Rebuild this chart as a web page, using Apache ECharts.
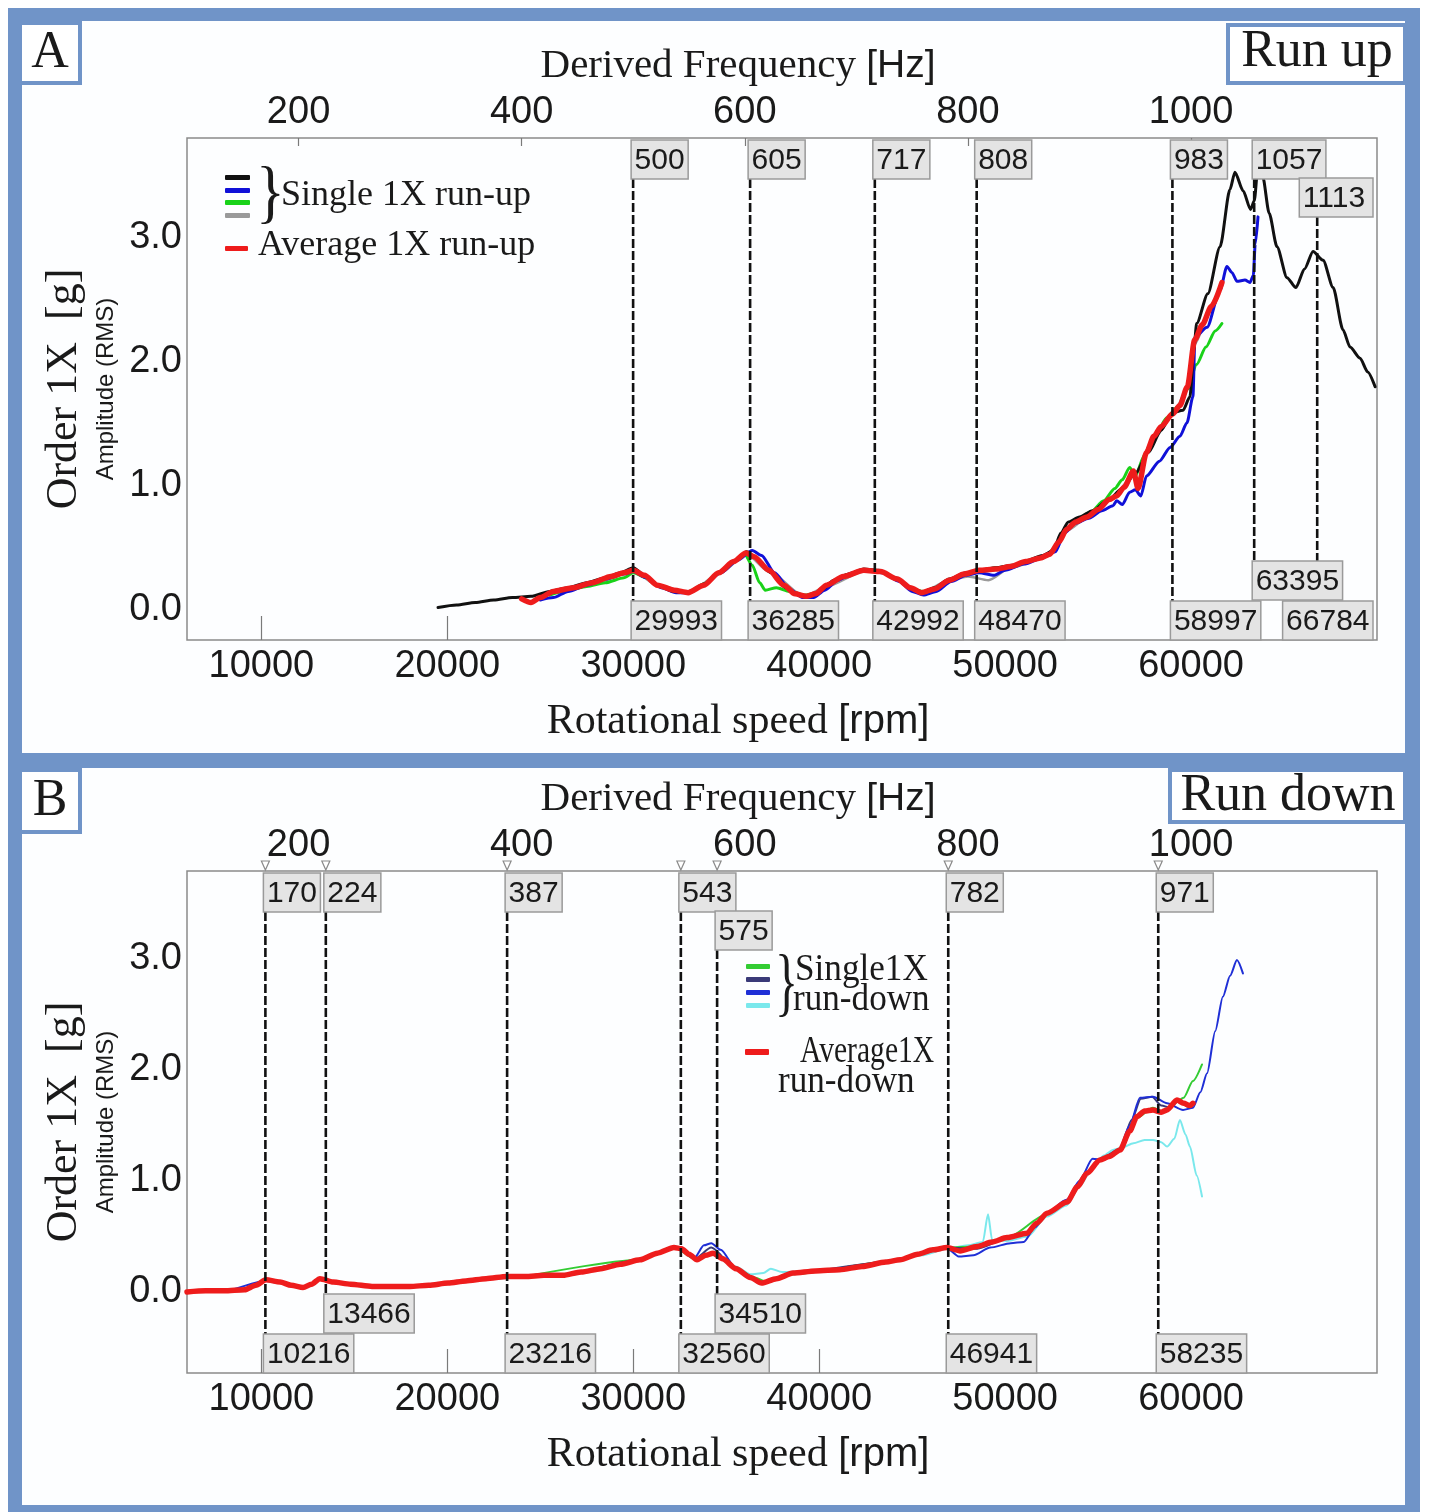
<!DOCTYPE html>
<html>
<head>
<meta charset="utf-8">
<title>Order 1X amplitude – run up / run down</title>
<script src="https://cdn.jsdelivr.net/npm/echarts@6/dist/echarts.min.js"></script>
<style>
  html, body { margin: 0; padding: 0; background: #ffffff; }
  #chart { width: 1429px; height: 1512px; }
</style>
</head>
<body>
<div id="chart"></div>
<script>
// ---------- axis ticks ----------
const rpmTicks = [10000, 20000, 30000, 40000, 50000, 60000];
const hzTicks = [200, 400, 600, 800, 1000];
const ampTicks = [0, 1, 2, 3];

// ---------- critical-speed markers [rpm] ----------
const runUpMarkersRpm = [29993, 36285, 42992, 48470, 58997, 63395, 66784];
const runDownMarkersRpm = [10216, 13466, 23216, 32560, 34510, 46941, 58235];

// ---------- run up: order 1X amplitude [g] vs speed [rpm] ----------
const runUpBlack = [
  [19500,0.02],[20500,0.04],[21500,0.06],[22500,0.08],[23500,0.10],[24500,0.11],[25500,0.15],
  [26500,0.18],[27500,0.22],[28500,0.26],[29300,0.30],[30000,0.34],[30700,0.27],[31400,0.19],
  [32200,0.15],[33000,0.14],[33800,0.21],[34700,0.31],[35500,0.40],[36100,0.47],[36600,0.42],
  [37400,0.30],[38200,0.18],[38900,0.12],[39500,0.11],[40100,0.16],[40800,0.24],[41600,0.29],
  [42400,0.33],[43200,0.32],[44100,0.26],[44900,0.18],[45500,0.14],[46200,0.18],[47000,0.25],
  [47900,0.30],[48600,0.32],[49500,0.34],[50400,0.36],[51200,0.40],[52000,0.44],[52600,0.48],
  [53000,0.62],[53400,0.71],[54000,0.75],[54700,0.80],[55500,0.88],[56300,0.98],[57000,1.10],
  [57700,1.27],[58400,1.45],[58970,1.59],[59570,1.61],[59940,1.72],[60150,2.10],[60300,2.31],
  [60900,2.55],[61560,2.93],[62090,3.39],[62360,3.53],[62800,3.38],[63200,3.23],[63400,3.30],
  [63600,3.58],[63850,3.50],[64200,3.20],[64620,2.93],[65160,2.68],[65640,2.60],[66100,2.75],
  [66560,2.89],[67100,2.82],[67640,2.60],[68170,2.26],[68550,2.12],[69090,2.03],[69500,1.92],
  [69900,1.80]
];
const runUpBlue = [
  [25000,0.08],[25700,0.10],[26500,0.15],[27500,0.20],[28500,0.25],[29500,0.29],[30000,0.31],
  [30700,0.26],[31500,0.18],[32300,0.14],[33000,0.14],[33800,0.20],[34700,0.30],[35600,0.40],
  [36400,0.48],[36900,0.44],[37600,0.30],[38400,0.17],[39100,0.10],[39700,0.10],[40300,0.16],
  [41000,0.24],[41800,0.30],[42600,0.32],[43400,0.30],[44300,0.23],[45000,0.15],[45600,0.12],
  [46300,0.15],[47100,0.23],[47900,0.28],[48600,0.30],[49400,0.28],[50000,0.32],[51000,0.37],
  [52000,0.42],[52700,0.47],[53200,0.62],[53800,0.70],[54500,0.74],[55200,0.80],[55800,0.84],
  [56000,0.88],[56300,0.85],[56700,0.95],[57000,0.97],[57300,0.92],[57600,1.08],[58300,1.20],
  [58870,1.31],[59400,1.40],[59780,1.51],[60100,1.72],[60210,2.20],[60860,2.28],[61560,2.58],
  [61930,2.77],[62200,2.72],[62470,2.65],[62900,2.66],[63170,2.64],[63350,2.70],[63450,2.95],
  [63600,3.17]
];
const runUpGreen = [
  [25500,0.12],[26500,0.16],[27500,0.19],[28500,0.22],[29500,0.26],[30000,0.30],[30700,0.26],
  [31400,0.19],[32200,0.15],[33000,0.15],[33800,0.21],[34700,0.31],[35500,0.40],[36000,0.45],
  [36400,0.36],[36800,0.22],[37100,0.16],[37700,0.18],[38400,0.15],[39200,0.12],[39900,0.14],
  [40500,0.21],[41400,0.28],[42400,0.32],[43300,0.31],[44200,0.25],[45000,0.17],[45600,0.15],
  [46300,0.18],[47100,0.25],[48000,0.30],[48700,0.32],[49600,0.34],[50500,0.36],[51400,0.40],
  [52200,0.44],[52800,0.52],[53300,0.66],[53900,0.73],[54600,0.79],[55300,0.88],[55900,0.98],
  [56300,1.05],[56700,1.15],[57000,1.08],[57500,1.25],[58100,1.42],[58700,1.55],[59300,1.64],
  [59800,1.78],[60300,1.98],[60800,2.12],[61300,2.25],[61660,2.31]
];
const runUpGrey = [
  [26000,0.14],[28000,0.22],[30000,0.31],[31300,0.20],[33000,0.14],[34600,0.29],[36100,0.45],
  [37300,0.31],[39200,0.11],[40400,0.19],[42400,0.31],[43300,0.31],[45500,0.14],[47000,0.24],
  [48000,0.27],[49100,0.24],[50300,0.34],[52400,0.44],[53300,0.64],[54400,0.74],[55600,0.88],
  [56900,1.08],[58000,1.38],[59000,1.57],[59800,1.78],[60200,2.15],[61000,2.40],[61500,2.55]
];
const runUpAverage = [
  [24000,0.09],[24500,0.06],[25000,0.10],[25700,0.15],[26800,0.18],[27800,0.22],[28800,0.27],
  [29500,0.30],[30000,0.32],[30600,0.28],[31300,0.20],[32200,0.16],[32950,0.14],[33800,0.20],
  [34600,0.30],[35400,0.39],[36060,0.46],[36500,0.43],[37300,0.32],[38100,0.20],[38700,0.13],
  [39300,0.11],[39800,0.13],[40400,0.20],[41300,0.27],[42400,0.32],[43300,0.31],[44200,0.25],
  [44900,0.18],[45500,0.14],[46200,0.17],[47000,0.24],[47800,0.29],[48600,0.32],[49500,0.33],
  [50300,0.35],[51100,0.39],[51900,0.42],[52400,0.45],[52900,0.55],[53300,0.65],[53800,0.71],
  [54400,0.75],[55000,0.81],[55600,0.89],[56000,0.92],[56400,0.99],[56900,1.12],[57150,0.98],
  [57600,1.27],[58000,1.40],[58400,1.48],[59000,1.58],[59400,1.65],[59800,1.80],[60200,2.18],
  [60600,2.30],[61100,2.45],[61660,2.64]
];

// ---------- run down: order 1X amplitude [g] vs speed [rpm] ----------
const runDownAverage = [
  [6000,0.00],[7000,0.01],[8000,0.01],[9100,0.02],[9700,0.06],[10250,0.11],[11000,0.09],
  [11600,0.06],[12240,0.04],[12700,0.07],[13150,0.12],[13860,0.09],[14800,0.07],[15950,0.05],
  [17000,0.05],[17990,0.05],[19000,0.06],[20040,0.08],[21000,0.10],[22080,0.12],[23200,0.14],
  [24180,0.14],[25200,0.15],[26220,0.15],[27200,0.18],[28260,0.21],[29300,0.25],[30360,0.29],
  [31300,0.35],[32190,0.40],[32600,0.39],[33000,0.34],[33430,0.29],[33900,0.33],[34290,0.35],
  [34800,0.30],[35530,0.21],[36300,0.13],[36900,0.08],[37700,0.12],[38590,0.17],[39800,0.19],
  [41110,0.20],[42300,0.23],[43590,0.27],[44350,0.29],[45300,0.34],[46120,0.38],[46870,0.40],
  [47580,0.37],[48490,0.41],[49300,0.45],[50100,0.49],[51180,0.53],[51700,0.62],[52250,0.71],
  [53330,0.81],[53900,0.95],[54400,1.07],[55100,1.19],[55600,1.22],[56180,1.28],[56700,1.45],
  [57090,1.58],[57500,1.63],[57950,1.64],[58400,1.62],[58710,1.64],[59240,1.73],[59600,1.70],
  [59940,1.68],[60100,1.70]
];
const runDownBlue = [
  [6000,0.00],[8000,0.01],[10200,0.10],[11000,0.08],[12200,0.04],[13200,0.11],[14000,0.08],
  [16000,0.05],[18000,0.05],[20000,0.08],[22000,0.12],[24200,0.14],[26200,0.15],[28300,0.21],
  [30400,0.29],[32200,0.40],[32700,0.37],[33300,0.31],[33800,0.42],[34200,0.44],[34700,0.38],
  [35500,0.22],[36300,0.13],[36900,0.09],[37800,0.12],[38600,0.17],[41100,0.20],[43600,0.27],
  [46100,0.37],[46900,0.39],[47500,0.32],[48300,0.33],[49200,0.40],[50300,0.44],[51000,0.45],
  [51600,0.58],[52300,0.72],[53300,0.83],[54000,1.00],[54700,1.20],[55300,1.19],[56100,1.27],
  [56700,1.50],[57250,1.75],[57950,1.76],[58710,1.70],[59570,1.64],[60100,1.66],[60500,1.80],
  [60860,1.97],[61300,2.35],[61710,2.66],[62100,2.85],[62470,2.99],[62790,2.87]
];
const runDownNavy = [
  [20000,0.08],[26000,0.15],[30400,0.29],[32200,0.41],[33300,0.30],[34200,0.40],[35500,0.21],
  [36900,0.09],[38600,0.17],[43600,0.27],[46900,0.40],[48500,0.39],[50100,0.48],[51200,0.53],
  [52300,0.72],[53300,0.82],[54400,1.08],[55100,1.20],[56200,1.29],[56800,1.55],[57300,1.74],
  [57900,1.76],[58400,1.68],[58900,1.66],[59300,1.72],[59800,1.67]
];
const runDownGreen = [
  [24200,0.14],[30400,0.29],[32200,0.40],
  [33400,0.29],[34300,0.36],[35500,0.22],[36500,0.13],[37200,0.09],[38600,0.16],[43600,0.27],
  [46900,0.40],[48500,0.41],[50100,0.49],[52250,0.70],[53300,0.80],[54400,1.06],[55100,1.18],
  [56200,1.28],[57100,1.57],[57950,1.66],[58500,1.62],[59100,1.70],[59600,1.75],[60100,1.90],
  [60590,2.05]
];
const runDownCyan = [
  [34500,0.33],[35500,0.23],[36300,0.16],[37000,0.17],[37400,0.21],[38000,0.18],[39500,0.19],
  [41100,0.21],[43600,0.28],[45500,0.33],[46900,0.39],[48000,0.42],[48800,0.45],[49080,0.70],
  [49300,0.47],[50100,0.46],[51200,0.50],[52250,0.68],[53300,0.78],[54000,0.95],[54700,1.12],
  [55300,1.23],[55800,1.28],[56300,1.30],[56900,1.34],[57500,1.37],[57950,1.37],[58400,1.35],
  [58710,1.31],[59100,1.38],[59400,1.55],[59700,1.42],[59940,1.31],[60300,1.05],[60590,0.86]
];

// ---------- styling ----------
const SERIF = '"Liberation Serif", "Times New Roman", serif';
const SANS = '"Liberation Sans", Arial, sans-serif';
const INK = '#1a1a1a';
const FRAME = '#7094c8';
const RPM_MIN = 6000, RPM_MAX = 70000;
const LABEL_FS = 30, LABEL_PAD = 3.5, BOX_H = 39;

const panels = [
  { top: 138, yMin: -0.242, yMax: 3.806, topTicks: true,  tri: false },
  { top: 871, yMin: -0.730, yMax: 3.793, topTicks: false, tri: true }
];
const PLOT_H = 502;

function boxWidth(text) {
  return text.length * 0.556 * LABEL_FS + 2 * LABEL_PAD;
}

// boxes start at their line, but are pushed left to stay inside the plot;
// overlapping neighbours are stacked into the next row
function placeBoxes(xs, texts, rightEdge) {
  const ends = [];
  return xs.map((x, k) => {
    const w = boxWidth(texts[k]);
    const left = Math.min(x - 2, rightEdge - w - 4);
    let r = 0;
    while (ends[r] !== undefined && ends[r] > left + 0.5) r++;
    ends[r] = left + w;
    return { left: left, row: r };
  });
}

function markerLayout(api, rpmList, p) {
  const xs = rpmList.map(v => api.coord([v, p.yMin])[0]);
  const rightEdge = api.coord([RPM_MAX, p.yMin])[0];
  const topTexts = rpmList.map(v => String(Math.round(v / 60)));
  const botTexts = rpmList.map(v => String(v));
  const topBoxes = placeBoxes(xs, topTexts, rightEdge);
  const botBoxes = placeBoxes(xs, botTexts, rightEdge);
  const yTop = api.coord([rpmList[0], p.yMax])[1];
  const yBot = api.coord([rpmList[0], p.yMin])[1];
  return { xs, topTexts, botTexts, topBoxes, botBoxes, yTop, yBot };
}

function labelBox(left, y, text) {
  const w = boxWidth(text);
  return [
    { type: 'rect', shape: { x: left, y: y, width: w, height: BOX_H },
      style: { fill: '#e4e4e4', stroke: '#9a9a9a', lineWidth: 1.5 } },
    { type: 'text', style: { text: text, x: left + LABEL_PAD, y: y + BOX_H / 2 + 1,
      font: LABEL_FS + 'px ' + SANS, fill: INK, textVerticalAlign: 'middle', textAlign: 'left' } }
  ];
}

function markerLineSeries(idx, rpmList) {
  const p = panels[idx];
  return {
    type: 'custom', xAxisIndex: idx * 2, yAxisIndex: idx, z: 5, clip: false, silent: true,
    data: rpmList.map(v => [v, p.yMin]),
    renderItem: (params, api) => {
      const L = markerLayout(api, rpmList, p);
      const i = params.dataIndex;
      const x = L.xs[i];
      const y1 = L.yTop + 2 + L.topBoxes[i].row * 38 + BOX_H;
      const y2 = L.yBot - BOX_H - L.botBoxes[i].row * 40;
      return { type: 'line', shape: { x1: x, y1: y1, x2: x, y2: y2 },
        style: { stroke: '#111', lineWidth: 2.6, lineDash: [9, 3] } };
    }
  };
}

function markerLabelSeries(idx, rpmList) {
  const p = panels[idx];
  return {
    type: 'custom', xAxisIndex: idx * 2, yAxisIndex: idx, z: 6, clip: false, silent: true,
    data: rpmList.map(v => [v, p.yMin]),
    renderItem: (params, api) => {
      const L = markerLayout(api, rpmList, p);
      const i = params.dataIndex;
      const x = L.xs[i];
      const tb = L.topBoxes[i], bb = L.botBoxes[i];
      const children = [].concat(
        labelBox(tb.left, L.yTop + 2 + tb.row * 38, L.topTexts[i]),
        labelBox(bb.left, L.yBot - BOX_H - bb.row * 40, L.botTexts[i])
      );
      if (p.tri) {
        children.push({ type: 'polygon',
          shape: { points: [[x - 4, L.yTop - 10], [x + 4, L.yTop - 10], [x, L.yTop - 1]] },
          style: { fill: '#fff', stroke: '#8a8a8a', lineWidth: 1.2 } });
      }
      return { type: 'group', children: children };
    }
  };
}

function curve(idx, data, color, width, z) {
  return {
    type: 'line', xAxisIndex: idx * 2, yAxisIndex: idx, data: data,
    showSymbol: false, smooth: 0.25, smoothMonotone: 'x', z: z || 2, silent: true,
    lineStyle: { color: color, width: width, join: 'round', cap: 'round' }
  };
}

const grids = panels.map(p => ({
  left: 187, right: 52, top: p.top, height: PLOT_H,
  show: true, borderColor: '#8a8a8a', borderWidth: 1.5, backgroundColor: 'transparent'
}));

const plain = v => String(v);

const xAxes = [];
panels.forEach((p, i) => {
  xAxes.push({
    gridIndex: i, type: 'value', position: 'bottom', min: RPM_MIN, max: RPM_MAX,
    axisLine: { show: false, onZero: false }, splitLine: { show: false },
    axisTick: { show: true, inside: true, length: 24, customValues: rpmTicks,
      lineStyle: { color: '#7a7a7a', width: 1.2 } },
    axisLabel: { customValues: rpmTicks, formatter: plain, fontSize: 38, fontFamily: SANS, color: INK, margin: 8 },
    name: 'Rotational speed {s|[rpm]}', nameLocation: 'middle', nameGap: 61,
    nameTextStyle: { fontFamily: SERIF, fontSize: 42, color: INK, padding: [0, 88, 0, 0],
      rich: { s: { fontFamily: SANS, fontSize: 40, color: INK } } }
  });
  xAxes.push({
    gridIndex: i, type: 'value', position: 'top', min: RPM_MIN / 60, max: RPM_MAX / 60,
    axisLine: { show: false, onZero: false }, splitLine: { show: false },
    axisTick: { show: p.topTicks, inside: true, length: 8, customValues: hzTicks,
      lineStyle: { color: '#7a7a7a', width: 1.2 } },
    axisLabel: { customValues: hzTicks, formatter: plain, fontSize: 38, fontFamily: SANS, color: INK, margin: 6 },
    name: 'Derived Frequency {s|[Hz]}', nameLocation: 'middle', nameGap: 51,
    nameTextStyle: { fontFamily: SERIF, fontSize: 41, color: INK, padding: [0, 88, 0, 0],
      rich: { s: { fontFamily: SANS, fontSize: 39, color: INK } } }
  });
});

const yAxes = panels.map((p, i) => ({
  gridIndex: i, type: 'value', min: p.yMin, max: p.yMax,
  axisLine: { show: false, onZero: false }, axisTick: { show: false }, splitLine: { show: false },
  axisLabel: { customValues: ampTicks, formatter: v => v.toFixed(1),
    fontSize: 38, fontFamily: SANS, color: INK, margin: 5 },
  name: '{a|Order 1X  [g]}\n{b|Amplitude (RMS)}', nameLocation: 'middle', nameRotate: 90, nameGap: 62,
  nameTextStyle: { align: 'center',
    rich: { a: { fontFamily: SERIF, fontSize: 44, color: INK, lineHeight: 48, align: 'center' },
            b: { fontFamily: SANS, fontSize: 24, color: INK, lineHeight: 36, align: 'center' } } }
}));

// frames, panel tags and hand-drawn legends
function txt(text, x, y, size, family, align, sx, sy) {
  return { type: 'text', z: 20, silent: true, x: x, y: y, scaleX: sx || 1, scaleY: sy || 1,
    style: { text: text, x: 0, y: 0, font: size + 'px ' + family, fill: INK,
      textAlign: align || 'left', textVerticalAlign: 'middle' } };
}
function swatch(x, y, w, h, color) {
  return { type: 'rect', z: 20, silent: true, shape: { x: x, y: y, width: w, height: h, r: 1 },
    style: { fill: color } };
}
function tagBox(x, y, w, h) {
  return { type: 'rect', z: 19, silent: true, shape: { x: x, y: y, width: w, height: h },
    style: { fill: '#fff', stroke: FRAME, lineWidth: 4 } };
}

const graphics = [
  { type: 'rect', z: -10, silent: true, shape: { x: 8, y: 8, width: 1412, height: 1504 }, style: { fill: FRAME } },
  { type: 'rect', z: -9, silent: true, shape: { x: 22, y: 21, width: 1383, height: 732 }, style: { fill: '#fdfeff' } },
  { type: 'rect', z: -9, silent: true, shape: { x: 22, y: 768, width: 1383, height: 737 }, style: { fill: '#fdfeff' } },

  tagBox(20, 23, 60, 60), txt('A', 50, 53, 52, SERIF, 'center'),
  tagBox(1228, 25, 177, 58), txt('Run up', 1317, 52, 52, SERIF, 'center'),
  tagBox(20, 770, 60, 62), txt('B', 50, 801, 52, SERIF, 'center'),
  tagBox(1170, 770, 235, 52), txt('Run down', 1288, 796, 52, SERIF, 'center'),

  // legend, run up
  swatch(225, 175, 25, 5, '#111'), swatch(225, 188, 25, 5, '#1010d8'),
  swatch(225, 200, 25, 5, '#19d219'), swatch(225, 213, 25, 5, '#9a9a9a'),
  txt('}', 256, 197, 60, SERIF, 'left', 1, 1.15), txt('Single 1X run-up', 281, 196, 36, SERIF),
  swatch(225, 246, 23, 5, '#ee1c1c'), txt('Average 1X run-up', 258, 246, 36, SERIF),

  // legend, run down
  swatch(746, 964, 24, 5, '#33cc33'), swatch(746, 977, 24, 5, '#3a3a78'),
  swatch(746, 990, 24, 5, '#1f2fd6'), swatch(746, 1003, 24, 5, '#7ae8ec'),
  txt('}', 775, 987, 48, SERIF, 'left', 1, 1.6),
  txt('Single1X', 795, 970, 37, SERIF, 'left', 0.95, 1), txt('run-down', 793, 1000, 37, SERIF, 'left', 0.95, 1),
  swatch(745, 1049, 24, 6, '#ee1c1c'),
  txt('Average1X', 800, 1052, 37, SERIF, 'left', 0.8, 1), txt('run-down', 778, 1082, 37, SERIF, 'left', 0.95, 1)
];

const series = [
  curve(0, runUpGrey, '#9a9a9a', 2.5),
  curve(0, runUpGreen, '#19d219', 3),
  curve(0, runUpBlue, '#1010d8', 3),
  curve(0, runUpBlack, '#111111', 3),
  curve(0, runUpAverage, '#ee1c1c', 5.5, 3),
  markerLineSeries(0, runUpMarkersRpm),
  markerLabelSeries(0, runUpMarkersRpm),

  curve(1, runDownCyan, '#7ae8ec', 2),
  curve(1, runDownGreen, '#33cc33', 2),
  curve(1, runDownNavy, '#3a3a78', 2),
  curve(1, runDownBlue, '#1f2fd6', 2),
  curve(1, runDownAverage, '#ee1c1c', 5.5, 3),
  markerLineSeries(1, runDownMarkersRpm),
  markerLabelSeries(1, runDownMarkersRpm)
];

const chart = echarts.init(document.getElementById('chart'), null, { renderer: 'canvas' });
chart.setOption({
  animation: false,
  backgroundColor: '#ffffff',
  grid: grids,
  xAxis: xAxes,
  yAxis: yAxes,
  graphic: graphics,
  series: series
});
</script>
</body>
</html>
